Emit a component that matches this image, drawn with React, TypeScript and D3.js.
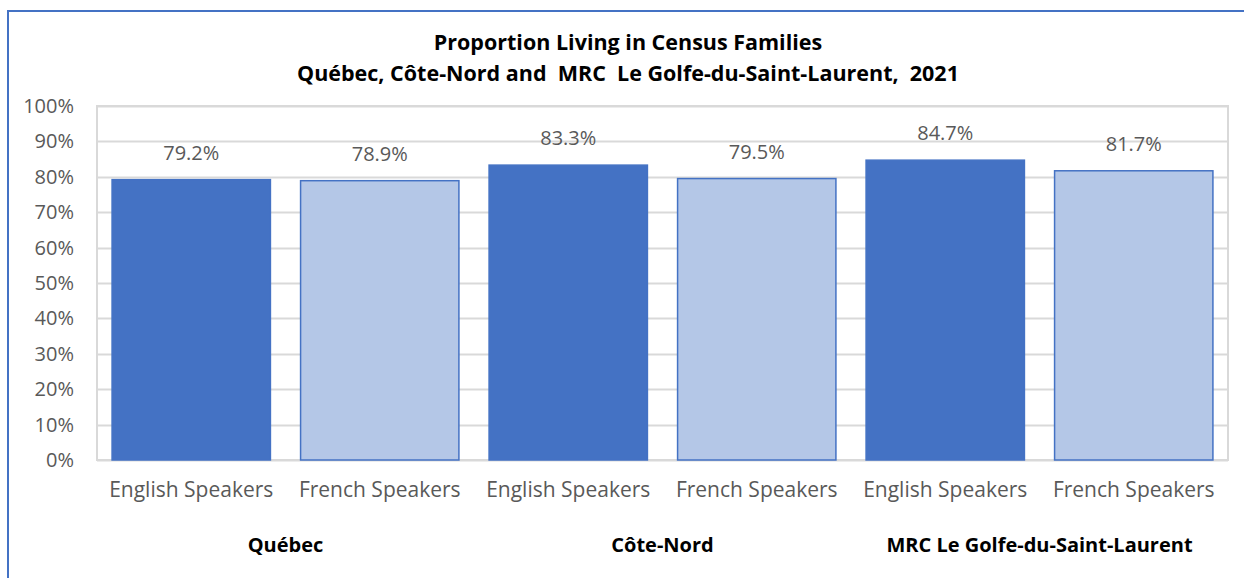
import React, { useEffect, useRef } from "react";
import * as d3 from "d3";

const regions = ["Québec", "Côte-Nord", "MRC Le Golfe-du-Saint-Laurent"];
const speakers = ["English Speakers", "French Speakers"];
const values = [79.2, 78.9, 83.3, 79.5, 84.7, 81.7];
const yTicks = [0, 10, 20, 30, 40, 50, 60, 70, 80, 90, 100];
const titleLines = [
  "Proportion Living in Census Families",
  "Québec, Côte-Nord and  MRC  Le Golfe-du-Saint-Laurent,  2021",
];

const FONT = "'Open Sans', Lato, sans-serif";

export default function App() {
  const ref = useRef<SVGSVGElement>(null);

  useEffect(() => {
    const width = 1244;
    const height = 578;
    const margin = { top: 106, left: 97, bottom: 118, right: 16 };
    const iwidth = width - margin.left - margin.right;
    const iheight = height - margin.top - margin.bottom;

    const svg = d3.select(ref.current);
    svg.selectAll("*").remove();

    // outer chart border
    svg
      .append("path")
      .attr("d", `M8,${height} V11 H${width}`)
      .attr("fill", "none")
      .attr("stroke", "#4472c4")
      .attr("stroke-width", 2);

    const g = svg
      .append("g")
      .attr("transform", `translate(${margin.left},${margin.top})`);

    const rows = regions.flatMap((r, i) =>
      speakers.map((s, j) => ({
        id: `${i}-${j}`,
        region: r,
        speaker: s,
        lang: j,
        value: values[i * speakers.length + j],
      }))
    );

    const y = d3.scaleLinear().domain([0, 100]).range([iheight, 0]);
    const x = d3
      .scaleBand()
      .domain(rows.map((d) => d.id))
      .range([0, iwidth])
      .paddingInner(0.16)
      .paddingOuter(0.08);
    const xr = d3.scaleBand().domain(regions).range([0, iwidth]);

    // gridlines
    g.selectAll("line.grid")
      .data(yTicks)
      .enter()
      .append("line")
      .attr("class", "grid")
      .attr("x1", 0)
      .attr("x2", iwidth)
      .attr("y1", (d) => Math.round(y(d)) + 0.5)
      .attr("y2", (d) => Math.round(y(d)) + 0.5)
      .attr("stroke", "#d9d9d9")
      .attr("stroke-width", 2);

    g.append("rect")
      .attr("x", 0)
      .attr("y", 0)
      .attr("width", iwidth)
      .attr("height", iheight)
      .attr("fill", "none")
      .attr("stroke", "#d9d9d9")
      .attr("stroke-width", 2);

    g.selectAll("rect.bar")
      .data(rows)
      .enter()
      .append("rect")
      .attr("class", "bar")
      .attr("x", (d) => x(d.id)!)
      .attr("y", (d) => y(d.value))
      .attr("width", x.bandwidth())
      .attr("height", (d) => iheight - y(d.value))
      .attr("fill", (d) => (d.lang === 0 ? "#4472c4" : "#b4c7e7"))
      .attr("stroke", "#4472c4")
      .attr("stroke-width", 1.5);

    g.selectAll("text.val")
      .data(rows)
      .enter()
      .append("text")
      .attr("class", "val")
      .attr("x", (d) => x(d.id)! + x.bandwidth() / 2)
      .attr("y", (d) => y(d.value) - 20)
      .attr("text-anchor", "middle")
      .style("font-family", FONT)
      .style("font-size", "20px")
      .attr("fill", "#595959")
      .text((d) => `${d.value.toFixed(1)}%`);

    // y axis labels
    g.selectAll("text.ytick")
      .data(yTicks)
      .enter()
      .append("text")
      .attr("class", "ytick")
      .attr("x", -23)
      .attr("y", (d) => y(d))
      .attr("dy", "0.35em")
      .attr("text-anchor", "end")
      .style("font-family", FONT)
      .style("font-size", "20px")
      .attr("fill", "#595959")
      .text((d) => `${d}%`);

    // category labels
    g.selectAll("text.cat")
      .data(rows)
      .enter()
      .append("text")
      .attr("class", "cat")
      .attr("x", (d) => x(d.id)! + x.bandwidth() / 2)
      .attr("y", iheight + 37)
      .attr("text-anchor", "middle")
      .style("font-family", FONT)
      .style("font-size", "21px")
      .attr("fill", "#595959")
      .text((d) => d.speaker);

    // region labels
    g.selectAll("text.region")
      .data(regions)
      .enter()
      .append("text")
      .attr("class", "region")
      .attr("x", (d) => xr(d)! + xr.bandwidth() / 2)
      .attr("y", iheight + 92)
      .attr("text-anchor", "middle")
      .style("font-family", FONT)
      .style("font-size", "20px")
      .style("font-weight", "bold")
      .attr("fill", "#000")
      .text((d) => d);

    svg
      .selectAll("text.title")
      .data(titleLines)
      .enter()
      .append("text")
      .attr("class", "title")
      .attr("x", 628)
      .attr("y", (d, i) => 50 + i * 31)
      .attr("text-anchor", "middle")
      .style("font-family", FONT)
      .style("font-size", "21.5px")
      .style("font-weight", "bold")
      .attr("fill", "#000")
      .style("white-space", "pre")
      .text((d) => d);
  }, []);

  return (
    <svg
      ref={ref}
      width={1244}
      height={578}
      style={{ position: "fixed", left: 0, top: 0, background: "#fff" }}
    />
  );
}
